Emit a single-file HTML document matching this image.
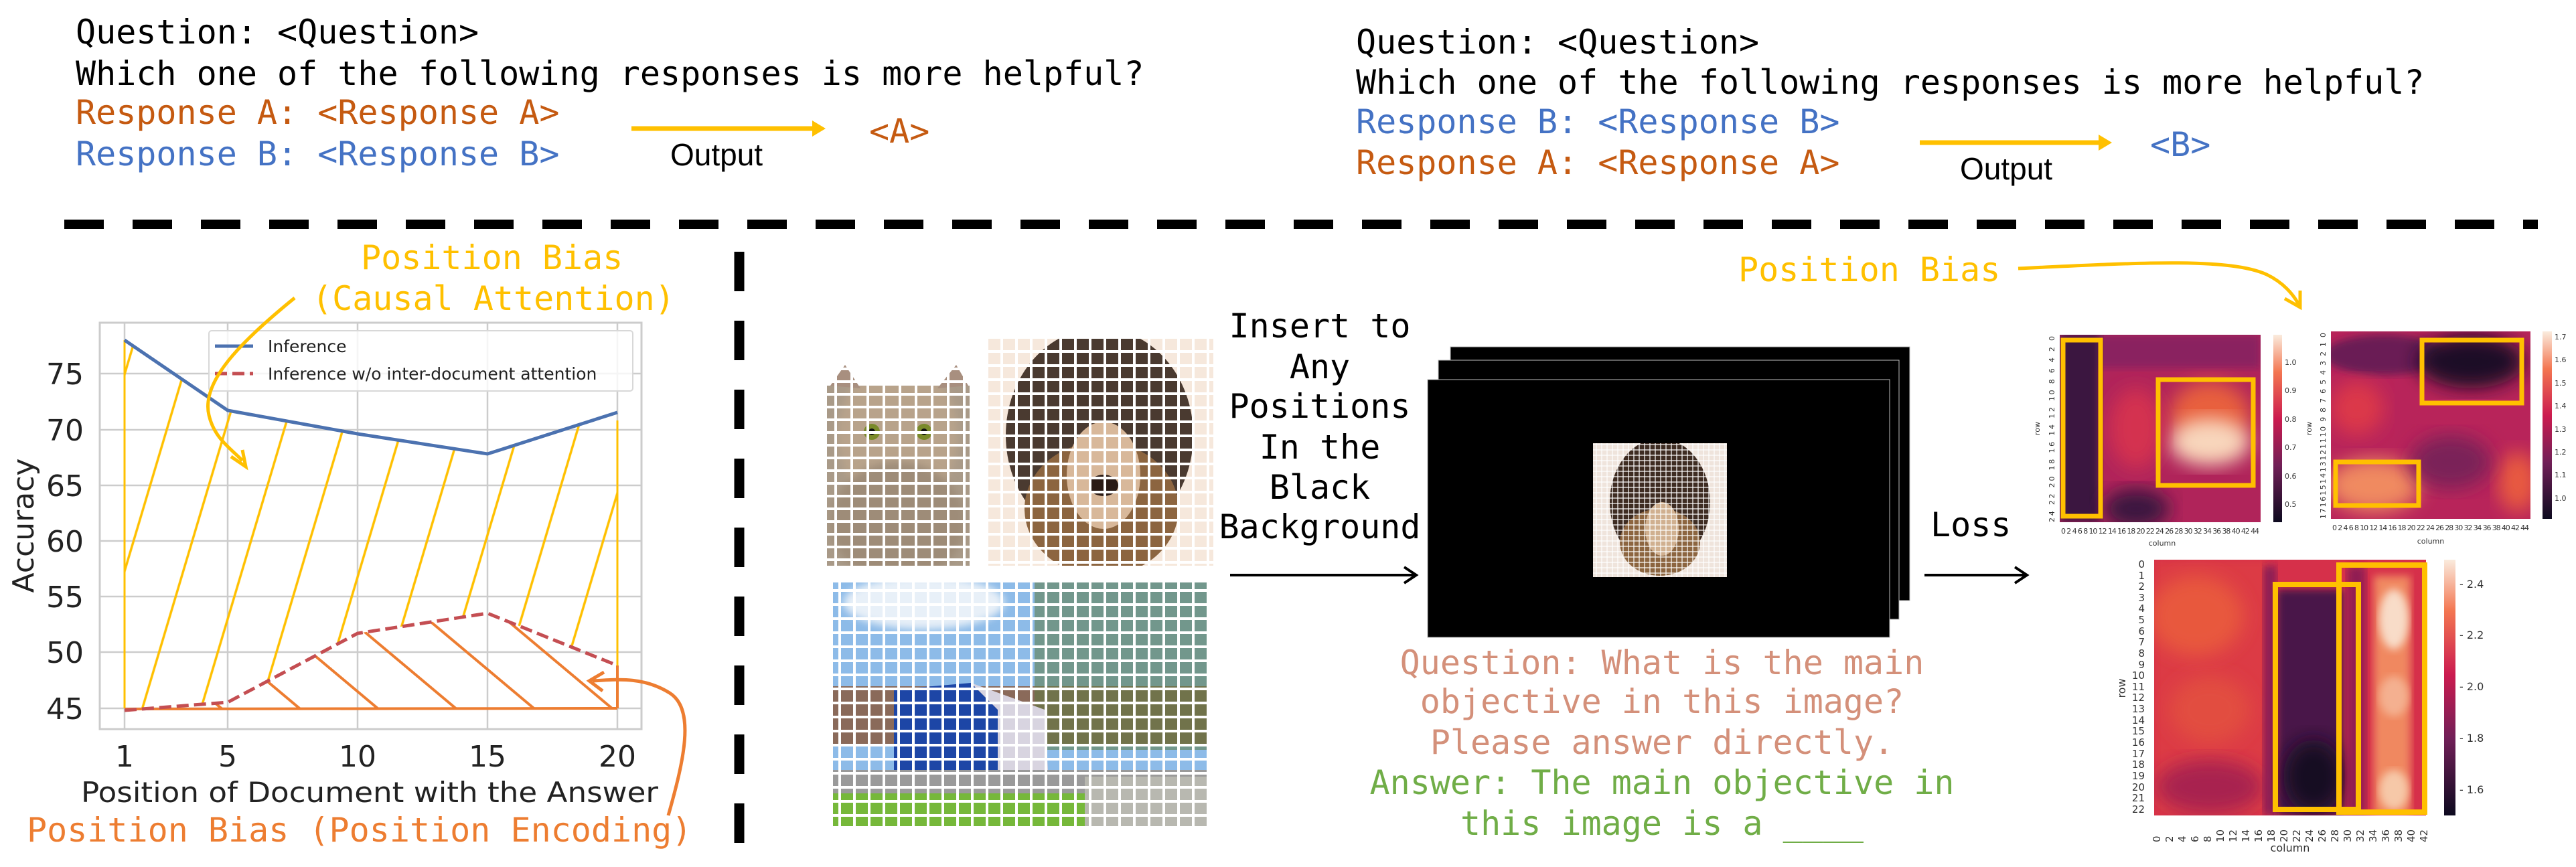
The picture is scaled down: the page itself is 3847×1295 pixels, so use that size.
<!DOCTYPE html>
<html><head><meta charset="utf-8"><style>
html,body{margin:0;padding:0;background:#fff;}
svg{display:block;}
.m{font-family:"DejaVu Sans Mono","Liberation Mono",monospace;font-size:50px;}
.s{font-family:"DejaVu Sans","Liberation Sans",sans-serif;}
</style></head><body>
<svg width="3847" height="1295" viewBox="0 0 3847 1295" xmlns="http://www.w3.org/2000/svg">
<defs>
<pattern id="hy" width="84" height="20" patternUnits="userSpaceOnUse" patternTransform="rotate(16.6)"><line x1="2" y1="0" x2="2" y2="20" stroke="#ffc000" stroke-width="3.5"/></pattern>
<pattern id="ho" width="75" height="20" patternUnits="userSpaceOnUse" patternTransform="rotate(-50)"><line x1="2" y1="0" x2="2" y2="20" stroke="#ed7d31" stroke-width="4"/></pattern>
<pattern id="gw" width="24" height="19" patternUnits="userSpaceOnUse"><rect width="24" height="19" fill="none" stroke="#fff" stroke-width="4"/></pattern>
<pattern id="gw2" width="22" height="21" patternUnits="userSpaceOnUse"><rect width="22" height="21" fill="none" stroke="#fff" stroke-width="4"/></pattern>
<pattern id="gb" width="8" height="8" patternUnits="userSpaceOnUse"><rect width="8" height="8" fill="none" stroke="#fff" stroke-width="1.2"/></pattern>
<filter id="bl" x="-20%" y="-20%" width="140%" height="140%"><feGaussianBlur stdDeviation="14"/></filter>
<filter id="bl2"><feGaussianBlur stdDeviation="6"/></filter>
<clipPath id="c1"><rect x="3076" y="500" width="300" height="280"/></clipPath>
<clipPath id="c2"><rect x="3481" y="495" width="298" height="280"/></clipPath>
<clipPath id="c3"><rect x="3217" y="836" width="406" height="382"/></clipPath>
<clipPath id="ccat"><rect x="1235" y="536" width="213" height="309"/></clipPath>
<clipPath id="cdog"><rect x="1472" y="503" width="340" height="342"/></clipPath>
<clipPath id="cbus"><rect x="1244" y="870" width="560" height="364"/></clipPath>
<clipPath id="csd"><rect x="2379" y="662" width="200" height="200"/></clipPath>
<linearGradient id="cb1" x1="0" y1="1" x2="0" y2="0"><stop offset="0" stop-color="#0d0a1f"/><stop offset=".3" stop-color="#701f57"/><stop offset=".55" stop-color="#cb1b4f"/><stop offset=".8" stop-color="#f37651"/><stop offset="1" stop-color="#faebdd"/></linearGradient>
</defs>

<text class="m" x="113" y="65" fill="#000">Question: &lt;Question&gt;</text>
<text class="m" x="113" y="127" fill="#000">Which one of the following responses is more helpful?</text>
<text class="m" x="113" y="185" fill="#c55a11">Response A: &lt;Response A&gt;</text>
<text class="m" x="113" y="247" fill="#4472c4">Response B: &lt;Response B&gt;</text>
<line x1="943" y1="192" x2="1215" y2="192" stroke="#ffc000" stroke-width="7"/>
<path d="M1213,180 L1233,192 L1213,204 z" fill="#ffc000"/>
<text x="1001" y="247" font-family="Liberation Sans,sans-serif" font-size="46" fill="#000">Output</text>
<text class="m" x="1298" y="213" fill="#c55a11">&lt;A&gt;</text>

<text class="m" x="2025" y="80" fill="#000">Question: &lt;Question&gt;</text>
<text class="m" x="2025" y="140" fill="#000">Which one of the following responses is more helpful?</text>
<text class="m" x="2025" y="199" fill="#4472c4">Response B: &lt;Response B&gt;</text>
<text class="m" x="2025" y="260" fill="#c55a11">Response A: &lt;Response A&gt;</text>
<line x1="2867" y1="213" x2="3136" y2="213" stroke="#ffc000" stroke-width="7"/>
<path d="M3134,201 L3154,213 L3134,225 z" fill="#ffc000"/>
<text x="2927" y="268" font-family="Liberation Sans,sans-serif" font-size="46" fill="#000">Output</text>
<text class="m" x="3211" y="233" fill="#4472c4">&lt;B&gt;</text>

<line x1="96" y1="335" x2="3790" y2="335" stroke="#000" stroke-width="14" stroke-dasharray="59 43"/>
<line x1="1104" y1="376" x2="1104" y2="1295" stroke="#000" stroke-width="15" stroke-dasharray="59 44"/>

<!-- chart -->
<rect x="149" y="482" width="809" height="607" fill="#fff" stroke="#cccccc" stroke-width="3"/>
<g stroke="#cccccc" stroke-width="2.5">
<line x1="186" y1="482" x2="186" y2="1089"/><line x1="340" y1="482" x2="340" y2="1089"/><line x1="534" y1="482" x2="534" y2="1089"/><line x1="728" y1="482" x2="728" y2="1089"/><line x1="922" y1="482" x2="922" y2="1089"/>
<line x1="149" y1="558" x2="958" y2="558"/><line x1="149" y1="642" x2="958" y2="642"/><line x1="149" y1="725" x2="958" y2="725"/><line x1="149" y1="808" x2="958" y2="808"/><line x1="149" y1="891" x2="958" y2="891"/><line x1="149" y1="974" x2="958" y2="974"/><line x1="149" y1="1058" x2="958" y2="1058"/>
</g>
<polygon points="186,508 340,613 534,648 728,678 922,616 922,994 728,916 534,946 340,1049 186,1061" fill="url(#hy)"/>
<polygon points="186,1061 340,1049 534,946 728,916 922,994 922,1058 186,1058" fill="url(#ho)"/>
<line x1="186" y1="508" x2="186" y2="1058" stroke="#ffc000" stroke-width="3"/>
<line x1="922" y1="628" x2="922" y2="994" stroke="#ffc000" stroke-width="3"/>
<line x1="186" y1="1059" x2="922" y2="1058" stroke="#ed7d31" stroke-width="4"/>
<line x1="922" y1="994" x2="922" y2="1058" stroke="#ed7d31" stroke-width="4"/>
<polyline points="186,508 340,613 534,648 728,678 922,616" fill="none" stroke="#4c72b0" stroke-width="5"/>
<polyline points="186,1061 340,1049 534,946 728,916 922,994" fill="none" stroke="#c44e52" stroke-width="5" stroke-dasharray="18 8"/>
<rect x="312" y="494" width="633" height="90" rx="4" fill="#fff" fill-opacity=".8" stroke="#d8d8d8" stroke-width="2"/>
<line x1="321" y1="517" x2="378" y2="517" stroke="#4c72b0" stroke-width="5"/>
<line x1="321" y1="558" x2="378" y2="558" stroke="#c44e52" stroke-width="5" stroke-dasharray="18 8"/>
<text class="s" x="400" y="526" font-size="25" fill="#222">Inference</text>
<text class="s" x="400" y="567" font-size="25" fill="#222">Inference w/o inter-document attention</text>
<g class="s" font-size="44" fill="#222" text-anchor="end">
<text x="125" y="574">75</text><text x="125" y="658">70</text><text x="125" y="741">65</text><text x="125" y="824">60</text><text x="125" y="907">55</text><text x="125" y="990">50</text><text x="125" y="1074">45</text>
</g>
<g class="s" font-size="44" fill="#222" text-anchor="middle">
<text x="186" y="1145">1</text><text x="340" y="1145">5</text><text x="534" y="1145">10</text><text x="728" y="1145">15</text><text x="922" y="1145">20</text>
</g>
<text class="s" x="0" y="0" font-size="44" fill="#222" text-anchor="middle" transform="translate(50,785) rotate(-90)">Accuracy</text>
<text class="s" x="552" y="1198" font-size="42" fill="#222" text-anchor="middle" textLength="862" lengthAdjust="spacingAndGlyphs">Position of Document with the Answer</text>
<text class="m" x="40" y="1257" fill="#ed7d31">Position Bias (Position Encoding)</text>
<text class="m" x="539" y="402" fill="#ffc000">Position Bias</text>
<text class="m" x="466" y="463" fill="#ffc000">(Causal Attention)</text>
<path d="M440,445 C 360,510 300,570 312,620 C 320,655 345,670 362,688" fill="none" stroke="#ffc000" stroke-width="5"/>
<path d="M345,682 L367,697 L362,672" fill="none" stroke="#ffc000" stroke-width="5"/>
<path d="M998,1218 C 1020,1140 1040,1060 1000,1035 C 960,1010 920,1015 885,1017" fill="none" stroke="#ed7d31" stroke-width="5"/>
<path d="M902,1004 L880,1017 L900,1032" fill="none" stroke="#ed7d31" stroke-width="5"/>

<!-- images -->
<g clip-path="url(#ccat)">
<rect x="1235" y="536" width="213" height="309" fill="#a99a88"/>
<ellipse cx="1341" cy="650" rx="90" ry="110" fill="#b8a38b" filter="url(#bl2)"/>
<ellipse cx="1341" cy="780" rx="100" ry="90" fill="#9e8c78" filter="url(#bl2)"/>
<circle cx="1302" cy="645" r="12" fill="#7a8a2a"/><circle cx="1380" cy="645" r="12" fill="#7a8a2a"/>
<circle cx="1302" cy="645" r="5" fill="#111"/><circle cx="1380" cy="645" r="5" fill="#111"/>
<rect x="1235" y="536" width="213" height="40" fill="#fff"/>
<path d="M1240,576 L1262,545 L1285,580 z M1400,580 L1428,545 L1446,576 z" fill="#a88f7f"/>
<rect x="1235" y="536" width="213" height="309" fill="url(#gw)"/>
</g>
<g clip-path="url(#cdog)">
<rect x="1472" y="503" width="340" height="342" fill="#f6e8dc"/>
<ellipse cx="1642" cy="650" rx="140" ry="160" fill="#4a3a30"/>
<ellipse cx="1645" cy="760" rx="115" ry="100" fill="#8c6540"/>
<ellipse cx="1648" cy="710" rx="55" ry="80" fill="#d8b89a"/>
<ellipse cx="1648" cy="725" rx="22" ry="16" fill="#2a1a14"/>
<rect x="1472" y="503" width="340" height="342" fill="url(#gw2)"/>
</g>
<g clip-path="url(#cbus)">
<rect x="1244" y="870" width="560" height="364" fill="#8dbbe8"/>
<ellipse cx="1380" cy="900" rx="120" ry="40" fill="#e8f0f8" filter="url(#bl2)"/>
<rect x="1244" y="1025" width="560" height="90" fill="#8a6a5a"/>
<path d="M1545,870 L1804,870 L1804,1120 L1545,1120 z" fill="#5c7a40" opacity=".55"/>
<path d="M1335,1030 L1450,1020 L1490,1060 L1490,1170 L1335,1180 z" fill="#1d46a6"/>
<path d="M1450,1020 L1560,1060 L1565,1150 L1490,1170 L1490,1060 z" fill="#d8d4e0"/>
<rect x="1244" y="1150" width="560" height="40" fill="#9a9a9a"/>
<rect x="1244" y="1185" width="560" height="49" fill="#76b83a"/>
<rect x="1620" y="1160" width="184" height="74" fill="#b8b8b0"/>
<rect x="1244" y="870" width="560" height="364" fill="url(#gw2)"/>
</g>
<text class="m" x="1971" y="504" text-anchor="middle">Insert to</text>
<text class="m" x="1971" y="565" text-anchor="middle">Any</text>
<text class="m" x="1971" y="624" text-anchor="middle">Positions</text>
<text class="m" x="1971" y="685" text-anchor="middle">In the</text>
<text class="m" x="1971" y="745" text-anchor="middle">Black</text>
<text class="m" x="1971" y="804" text-anchor="middle">Background</text>
<line x1="1837" y1="859" x2="2113" y2="859" stroke="#000" stroke-width="4"/>
<path d="M2097,847 L2115,859 L2097,871" fill="none" stroke="#000" stroke-width="4"/>

<rect x="2166" y="518" width="686" height="379" fill="#000" stroke="#bbb" stroke-width="1"/>
<rect x="2148" y="538" width="688" height="387" fill="#000" stroke="#bbb" stroke-width="1"/>
<rect x="2132" y="567" width="690" height="385" fill="#000" stroke="#bbb" stroke-width="1"/>
<g clip-path="url(#csd)">
<rect x="2379" y="662" width="200" height="200" fill="#efe4dc"/>
<ellipse cx="2479" cy="750" rx="75" ry="95" fill="#3e2c22"/>
<ellipse cx="2479" cy="810" rx="60" ry="50" fill="#8c6540"/>
<ellipse cx="2482" cy="790" rx="25" ry="40" fill="#d0b090"/>
<rect x="2379" y="662" width="200" height="200" fill="url(#gb)"/>
</g>
<g class="m" text-anchor="middle">
<text x="2482" y="1007" fill="#d4907a">Question: What is the main</text>
<text x="2482" y="1065" fill="#d4907a">objective in this image?</text>
<text x="2482" y="1126" fill="#d4907a">Please answer directly.</text>
<text x="2482" y="1186" fill="#70ad47">Answer: The main objective in</text>
<text x="2482" y="1247" fill="#70ad47">this image is a ____</text>
</g>
<text class="m" x="2596" y="420" fill="#ffc000">Position Bias</text>
<path d="M3014,401 C 3200,392 3330,385 3385,410 C 3410,422 3425,440 3433,455" fill="none" stroke="#ffc000" stroke-width="5"/>
<path d="M3412,446 L3435,459 L3435,434" fill="none" stroke="#ffc000" stroke-width="5"/>
<text class="m" x="2883" y="801">Loss</text>
<line x1="2874" y1="859" x2="3025" y2="859" stroke="#000" stroke-width="4"/>
<path d="M3009,847 L3027,859 L3009,871" fill="none" stroke="#000" stroke-width="4"/>

<!-- heatmap 1 -->
<g clip-path="url(#c1)">
<rect x="3076" y="500" width="300" height="280" fill="#b0245a"/>
<rect x="3076" y="500" width="300" height="50" fill="#8a2060" filter="url(#bl2)"/>
<rect x="3076" y="500" width="60" height="280" fill="#3a1240" filter="url(#bl2)"/>
<ellipse cx="3190" cy="760" rx="50" ry="30" fill="#3a1240" filter="url(#bl)"/>
<ellipse cx="3300" cy="620" rx="60" ry="50" fill="#e8603e" filter="url(#bl)"/>
<ellipse cx="3300" cy="660" rx="60" ry="35" fill="#f8d6bc" filter="url(#bl)"/>
<ellipse cx="3190" cy="640" rx="40" ry="60" fill="#d43050" filter="url(#bl)"/>
</g>
<rect x="3395" y="500" width="13" height="280" fill="url(#cb1)"/>
<rect x="3081" y="508" width="56" height="263" fill="none" stroke="#ffc000" stroke-width="7"/>
<rect x="3223" y="567" width="142" height="158" fill="none" stroke="#ffc000" stroke-width="7"/>
<g class="s" font-size="11" fill="#333">
<text x="3412" y="545">1.0</text><text x="3412" y="587">0.9</text><text x="3412" y="630">0.8</text><text x="3412" y="672">0.7</text><text x="3412" y="715">0.6</text><text x="3412" y="757">0.5</text>
<text x="3229" y="815" text-anchor="middle">column</text>
<text transform="translate(3046,640) rotate(-90)" text-anchor="middle">row</text>
<text transform="translate(3068,780) rotate(-90)" textLength="278" lengthAdjust="spacing">24 22 20 18 16 14 12 10 8 6 4 2 0</text>
</g>
<text class="s" font-size="11" fill="#333" x="3078" y="797" textLength="296" lengthAdjust="spacing">0 2 4 6 8 10 12 14 16 18 20 22 24 26 28 30 32 34 36 38 40 42 44</text>

<!-- heatmap 2 -->
<g clip-path="url(#c2)">
<rect x="3481" y="495" width="298" height="280" fill="#b8245a"/>
<ellipse cx="3560" cy="530" rx="90" ry="30" fill="#6a1a55" filter="url(#bl2)"/>
<ellipse cx="3690" cy="540" rx="80" ry="40" fill="#1c0c28" filter="url(#bl)"/>
<ellipse cx="3545" cy="725" rx="70" ry="40" fill="#f08a60" filter="url(#bl)"/>
<ellipse cx="3760" cy="720" rx="30" ry="45" fill="#e85a40" filter="url(#bl)"/>
<ellipse cx="3520" cy="610" rx="40" ry="40" fill="#dc3848" filter="url(#bl)"/>
<ellipse cx="3660" cy="690" rx="60" ry="40" fill="#7a2058" filter="url(#bl)"/>
</g>
<rect x="3797" y="495" width="14" height="280" fill="url(#cb1)"/>
<rect x="3617" y="508" width="149" height="94" fill="none" stroke="#ffc000" stroke-width="7"/>
<rect x="3488" y="690" width="124" height="65" fill="none" stroke="#ffc000" stroke-width="7"/>
<g class="s" font-size="11" fill="#333">
<text x="3815" y="507">1.7</text><text x="3815" y="541">1.6</text><text x="3815" y="576">1.5</text><text x="3815" y="610">1.4</text><text x="3815" y="645">1.3</text><text x="3815" y="679">1.2</text><text x="3815" y="713">1.1</text><text x="3815" y="748">1.0</text>
<text x="3630" y="812" text-anchor="middle">column</text>
<text transform="translate(3452,640) rotate(-90)" text-anchor="middle">row</text>
<text transform="translate(3473,775) rotate(-90)" textLength="278" lengthAdjust="spacing">1716151413121110 9 8 7 6 5 4 3 2 1 0</text>
</g>
<text class="s" font-size="11" fill="#333" x="3483" y="792" textLength="294" lengthAdjust="spacing">0 2 4 6 8 10 12 14 16 18 20 22 24 26 28 30 32 34 36 38 40 42 44</text>

<!-- heatmap 3 -->
<g clip-path="url(#c3)">
<rect x="3217" y="836" width="406" height="382" fill="#d6304a"/>
<rect x="3217" y="836" width="170" height="382" fill="#dc3a44" filter="url(#bl2)"/>
<ellipse cx="3280" cy="920" rx="70" ry="60" fill="#e8583e" filter="url(#bl)"/>
<ellipse cx="3300" cy="1060" rx="60" ry="50" fill="#e24e40" filter="url(#bl)"/>
<ellipse cx="3300" cy="1175" rx="80" ry="40" fill="#a82050" filter="url(#bl)"/>
<rect x="3380" y="845" width="20" height="373" fill="#8a1c55" filter="url(#bl2)"/>
<rect x="3400" y="880" width="100" height="338" fill="#4a1448" filter="url(#bl2)"/>
<ellipse cx="3455" cy="1160" rx="45" ry="55" fill="#160a22" filter="url(#bl)"/>
<rect x="3505" y="845" width="28" height="373" fill="#901c52" filter="url(#bl2)"/>
<rect x="3545" y="860" width="55" height="358" fill="#f08860" filter="url(#bl2)"/>
<ellipse cx="3575" cy="925" rx="22" ry="45" fill="#f8dcc8" filter="url(#bl2)"/>
<ellipse cx="3575" cy="1180" rx="22" ry="30" fill="#f6c8a8" filter="url(#bl2)"/>
<ellipse cx="3575" cy="1040" rx="22" ry="30" fill="#f4b090" filter="url(#bl2)"/>
</g>
<rect x="3650" y="836" width="17" height="382" fill="url(#cb1)"/>
<rect x="3398" y="873" width="124" height="336" fill="none" stroke="#ffc000" stroke-width="8"/>
<rect x="3493" y="844" width="128" height="369" fill="none" stroke="#ffc000" stroke-width="8"/>
<g class="s" font-size="16" fill="#333">
<text x="3673" y="878">- 2.4</text><text x="3673" y="954">- 2.2</text><text x="3673" y="1031">- 2.0</text><text x="3673" y="1108">- 1.8</text><text x="3673" y="1185">- 1.6</text>
<text x="3420" y="1272" text-anchor="middle">column</text>
<text transform="translate(3174,1028) rotate(-90)" text-anchor="middle">row</text>
</g>
<g class="s" font-size="15" fill="#333" text-anchor="end">
<text x="3203" y="848">0</text><text x="3203" y="865">1</text><text x="3203" y="881">2</text><text x="3203" y="898">3</text><text x="3203" y="914">4</text><text x="3203" y="931">5</text><text x="3203" y="948">6</text><text x="3203" y="964">7</text><text x="3203" y="981">8</text><text x="3203" y="998">9</text><text x="3203" y="1014">10</text><text x="3203" y="1031">11</text><text x="3203" y="1047">12</text><text x="3203" y="1064">13</text><text x="3203" y="1081">14</text><text x="3203" y="1097">15</text><text x="3203" y="1114">16</text><text x="3203" y="1131">17</text><text x="3203" y="1147">18</text><text x="3203" y="1164">19</text><text x="3203" y="1181">20</text><text x="3203" y="1197">21</text><text x="3203" y="1214">22</text>
</g>
<g class="s" font-size="15" fill="#333">
<text transform="translate(3226,1258) rotate(-90)">0</text>
<text transform="translate(3245,1258) rotate(-90)">2</text><text transform="translate(3264,1258) rotate(-90)">4</text><text transform="translate(3283,1258) rotate(-90)">6</text><text transform="translate(3302,1258) rotate(-90)">8</text><text transform="translate(3321,1258) rotate(-90)">10</text><text transform="translate(3340,1258) rotate(-90)">12</text><text transform="translate(3359,1258) rotate(-90)">14</text><text transform="translate(3378,1258) rotate(-90)">16</text><text transform="translate(3397,1258) rotate(-90)">18</text><text transform="translate(3416,1258) rotate(-90)">20</text><text transform="translate(3435,1258) rotate(-90)">22</text><text transform="translate(3454,1258) rotate(-90)">24</text><text transform="translate(3473,1258) rotate(-90)">26</text><text transform="translate(3492,1258) rotate(-90)">28</text><text transform="translate(3511,1258) rotate(-90)">30</text><text transform="translate(3530,1258) rotate(-90)">32</text><text transform="translate(3549,1258) rotate(-90)">34</text><text transform="translate(3568,1258) rotate(-90)">36</text><text transform="translate(3587,1258) rotate(-90)">38</text><text transform="translate(3606,1258) rotate(-90)">40</text><text transform="translate(3625,1258) rotate(-90)">42</text>
</g>
</svg>
</body></html>
